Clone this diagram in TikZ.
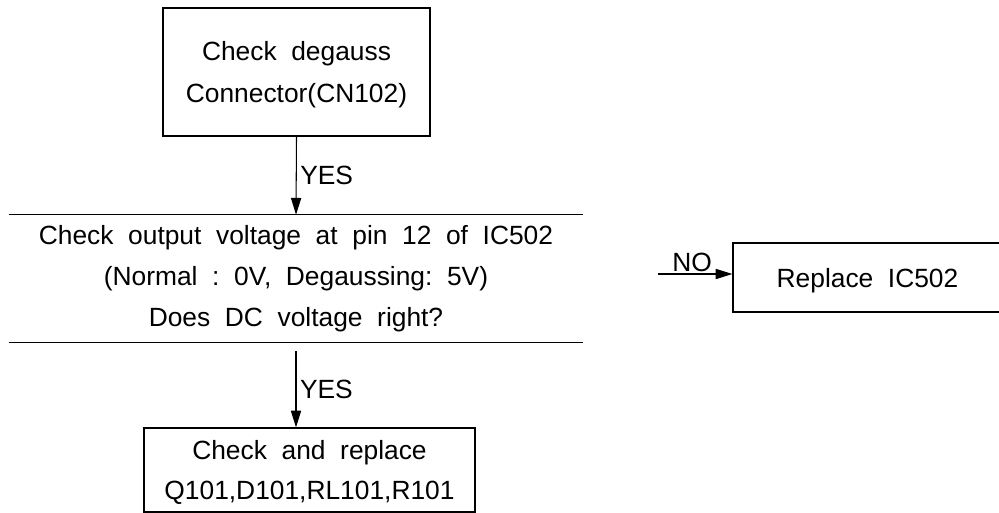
\documentclass[tikz,border=0pt]{standalone}
\usepackage{fontspec}
\setmainfont{Liberation Sans}
\usetikzlibrary{arrows.meta}

\begin{document}
\begin{tikzpicture}[>={Triangle[length=9.5pt,width=5.8pt]},x=0.02cm,y=0.02cm,
  font=\fontsize{15}{23.3}\selectfont,
  box/.style={draw,line width=0.75pt,align=center,inner sep=0pt,text depth=0pt},
  arr/.style={line width=0.6pt,->},
  lbl/.style={inner sep=2pt}]

  \useasboundingbox (0,0) rectangle (999,-513);

  % --- degauss connector ---
  \node[box,minimum width=5.34cm,minimum height=2.56cm,
        font=\fontsize{15}{23.8}\selectfont] (degauss) at (296.5,-72)
        {Check\ \ degauss\\Connector(CN102)};

  % --- voltage check (lines above and below only) ---
  \node[align=center,minimum width=11.48cm,minimum height=2.54cm,inner sep=0pt]
        (volt) at (296,-278.5)
        {Check\ \ output\ \ voltage\ \ at\ \ pin\ \ 12\ \ of\ \ IC502\\
         (Normal\ \ :\ \ 0V,\ \ Degaussing:\ \ 5V)\\
         Does\ \ DC\ \ voltage\ \ right?};
  \draw[line width=0.75pt] (volt.north west) -- (volt.north east);
  \draw[line width=0.75pt] (volt.south west) -- (volt.south east);

  % --- replace IC ---
  \node[box,minimum width=5.38cm,minimum height=1.38cm] (replace) at (867.5,-277.5)
        {Replace\ \ IC502};

  % --- check and replace parts ---
  \node[box,minimum width=6.62cm,minimum height=1.68cm,
        font=\fontsize{15}{22.7}\selectfont] (parts) at (309.5,-470)
        {Check\ \ and\ \ replace\\Q101,D101,RL101,R101};

  % --- connectors ---
  \draw[arr] (degauss.south) -- (volt.north)
        node[lbl,midway,right] {YES};
  \coordinate (vout) at ([yshift=-0.18cm]volt.south);
  \draw[arr] (vout) -- (vout |- parts.north)
        node[lbl,midway,right] {YES};
  \coordinate (nofrom) at (658,-274);
  \draw[arr] (nofrom) -- (nofrom -| replace.west)
        node[lbl,pos=0.46,above,inner sep=1pt] {NO};

\end{tikzpicture}
\end{document}
